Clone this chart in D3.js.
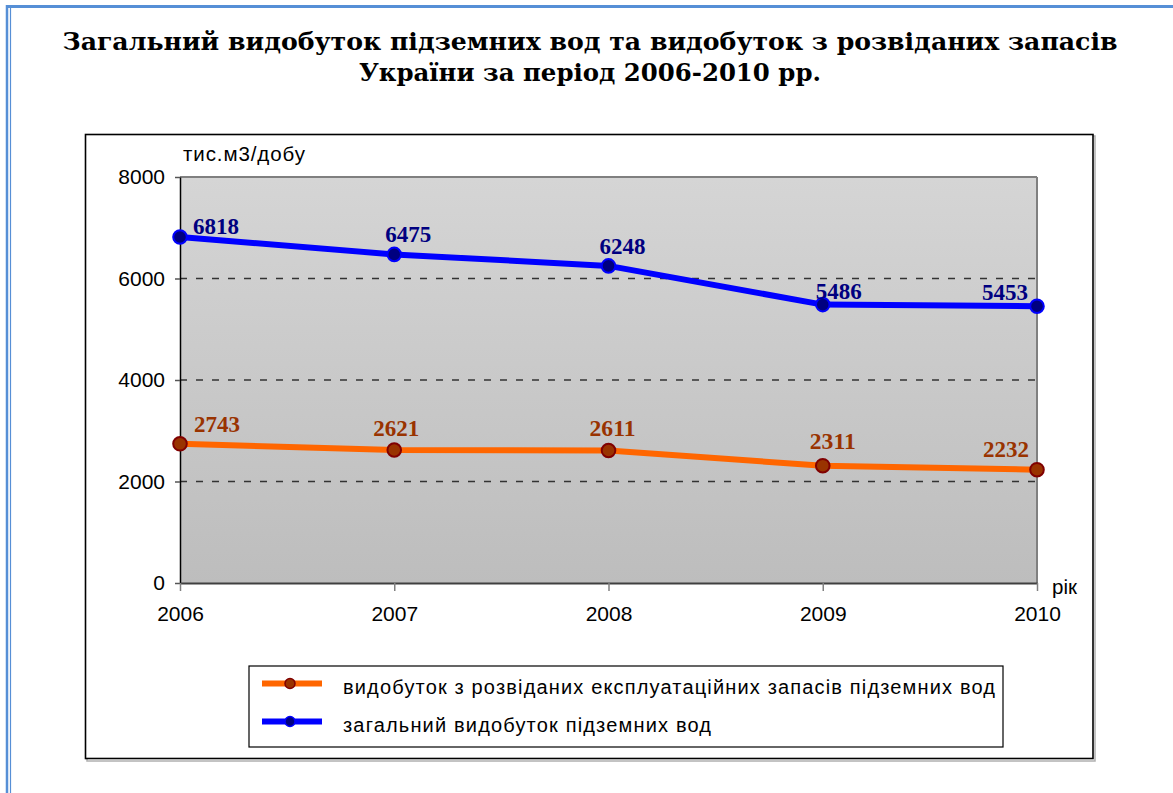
<!DOCTYPE html>
<html>
<head>
<meta charset="utf-8">
<script src="https://cdn.jsdelivr.net/npm/d3@7"></script>
<style>
  body { margin: 0; background: #fff; }
  svg { display: block; }
</style>
</head>
<body>
<div id="chart"></div>
<script>
// data
var years = ["2006", "2007", "2008", "2009", "2010"]
var totalValues = [6818, 6475, 6248, 5486, 5453]
var exploredValues = [2743, 2621, 2611, 2311, 2232]
var yTicks = [0, 2000, 4000, 6000, 8000]
var titleLines = ["Загальний видобуток підземних вод та видобуток з розвіданих запасів",
                  "України за період 2006-2010 рр."]
var legendLabels = ["видобуток з розвіданих експлуатаційних запасів підземних вод",
                    "загальний видобуток підземних вод"]
var yUnit = "тис.м3/добу"
var xUnit = "рік"

// label nudges (layout only)
var totalLabelOffsets = [[36, -3], [14, -12], [14, -12], [16, -6], [-32, -6]]
var exploredLabelOffsets = [[37, -12], [2, -14], [4, -14], [10, -17], [-31, -13]]

var W = 1173, H = 793
var svg = d3.select("#chart").append("svg")
    .attr("width", W)
    .attr("height", H)

// page border
svg.append("line").attr("x1", 6).attr("x2", W).attr("y1", 6.5).attr("y2", 6.5)
    .attr("stroke", "#568fd6").attr("stroke-width", 3)
svg.append("line").attr("x1", 7).attr("x2", 7).attr("y1", 5).attr("y2", H)
    .attr("stroke", "#568fd6").attr("stroke-width", 2.5)
svg.append("line").attr("x1", 10.5).attr("x2", 10.5).attr("y1", 8).attr("y2", H)
    .attr("stroke", "#568fd6").attr("stroke-width", 1.2)

// title
var titleWidths = [1055, 462]
svg.selectAll(".title")
    .data(titleLines)
    .enter()
    .append("text")
    .attr("class", "title")
    .attr("x", 590)
    .attr("y", function(d, i) { return 50 + i * 31 })
    .attr("text-anchor", "middle")
    .attr("textLength", function(d, i) { return titleWidths[i] })
    .attr("lengthAdjust", "spacingAndGlyphs")
    .style("font-family", "'DejaVu Serif', serif")
    .style("font-weight", "bold")
    .style("font-size", "24.5px")
    .text(function(d) { return d })

// chart frame
svg.append("rect")
    .attr("x", 87).attr("y", 136).attr("width", 1008).attr("height", 625)
    .attr("fill", "none").attr("stroke", "#b0b0b0").attr("stroke-width", 1.5)
svg.append("rect")
    .attr("x", 85.5).attr("y", 134.5).attr("width", 1007.5).attr("height", 624)
    .attr("fill", "#fff").attr("stroke", "#000").attr("stroke-width", 1.6)

var plotLeft = 180, plotTop = 177, plotRight = 1037, plotBottom = 583
var xs = d3.scalePoint().domain(years).range([plotLeft, plotRight])
var ys = d3.scaleLinear().domain([0, 8000]).range([plotBottom, plotTop])

// plot background gradient
var defs = svg.append("defs")
var grad = defs.append("linearGradient").attr("id", "plotbg")
    .attr("x1", 0).attr("x2", 0).attr("y1", 0).attr("y2", 1)
grad.append("stop").attr("offset", "0%").attr("stop-color", "#d5d5d5")
grad.append("stop").attr("offset", "100%").attr("stop-color", "#bdbdbd")

svg.append("rect")
    .attr("x", plotLeft).attr("y", plotTop)
    .attr("width", plotRight - plotLeft).attr("height", plotBottom - plotTop)
    .attr("fill", "url(#plotbg)")

// gridlines
svg.append("g")
    .selectAll("line")
    .data(yTicks.filter(function(d) { return d > 0 && d < 8000 }))
    .enter()
    .append("line")
    .attr("x1", plotLeft).attr("x2", plotRight)
    .attr("y1", function(d) { return ys(d) }).attr("y2", function(d) { return ys(d) })
    .attr("stroke", "#333").attr("stroke-width", 1.3)
    .attr("stroke-dasharray", "7,9")

// top and right border of plot
svg.append("line").attr("x1", plotLeft).attr("x2", plotRight).attr("y1", ys(8000)).attr("y2", ys(8000))
    .attr("stroke", "#808080").attr("stroke-width", 2)
svg.append("line").attr("x1", plotRight).attr("x2", plotRight).attr("y1", plotTop).attr("y2", plotBottom)
    .attr("stroke", "#808080").attr("stroke-width", 2)

// axes
var yAxis = svg.append("g")
    .attr("transform", "translate(" + plotLeft + ",0)")
    .call(d3.axisLeft(ys).tickValues(yTicks).tickFormat(d3.format("d"))
        .tickSize(5).tickSizeOuter(0).tickPadding(10))
yAxis.select(".domain").attr("stroke", "#000").attr("stroke-width", 1.5)
yAxis.selectAll(".tick line").attr("stroke", "#555").attr("stroke-width", 1.5)
yAxis.selectAll("text")
    .style("font-family", "'Liberation Sans', Arial, sans-serif")
    .style("font-size", "21px").attr("fill", "#000")

var xAxis = svg.append("g")
    .attr("transform", "translate(0," + plotBottom + ")")
    .call(d3.axisBottom(xs).tickSize(8).tickSizeOuter(0).tickPadding(15))
xAxis.select(".domain").attr("stroke", "#404040").attr("stroke-width", 2)
xAxis.selectAll(".tick line").attr("stroke", "#808080").attr("stroke-width", 1.5)
xAxis.selectAll("text")
    .style("font-family", "'Liberation Sans', Arial, sans-serif")
    .style("font-size", "21px").attr("fill", "#000")

// axis units
svg.append("text")
    .attr("x", 183).attr("y", 161)
    .attr("textLength", 122)
    .attr("lengthAdjust", "spacing")
    .style("font-family", "'Liberation Sans', Arial, sans-serif")
    .style("font-size", "20.5px")
    .text(yUnit)
svg.append("text")
    .attr("x", 1052).attr("y", 594)
    .style("font-family", "'Liberation Sans', Arial, sans-serif")
    .style("font-size", "20.5px")
    .text(xUnit)

// series
var series = [
    { values: exploredValues, line: "#ff6600", fill: "#993300", stroke: "#800000", label: "#993300", offsets: exploredLabelOffsets },
    { values: totalValues, line: "#0000ff", fill: "#000080", stroke: "#0000ff", label: "#000080", offsets: totalLabelOffsets }
]

var lineGen = d3.line()
    .x(function(d, i) { return xs(years[i]) })
    .y(function(d) { return ys(d) })

series.forEach(function(s) {
    svg.append("path")
        .datum(s.values)
        .attr("d", lineGen)
        .attr("fill", "none")
        .attr("stroke", s.line)
        .attr("stroke-width", 6)
        .attr("stroke-linejoin", "round")

    svg.append("g")
        .selectAll("circle")
        .data(s.values)
        .enter()
        .append("circle")
        .attr("cx", function(d, i) { return xs(years[i]) })
        .attr("cy", function(d) { return ys(d) })
        .attr("r", 6.8)
        .attr("fill", s.fill)
        .attr("stroke", s.stroke)
        .attr("stroke-width", 2)

    svg.append("g")
        .selectAll("text")
        .data(s.values)
        .enter()
        .append("text")
        .attr("x", function(d, i) { return xs(years[i]) + s.offsets[i][0] })
        .attr("y", function(d, i) { return ys(d) + s.offsets[i][1] })
        .attr("text-anchor", "middle")
        .attr("textLength", 46)
        .attr("lengthAdjust", "spacingAndGlyphs")
        .attr("fill", s.label)
        .style("font-family", "'Liberation Serif', 'Times New Roman', serif")
        .style("font-weight", "bold")
        .style("font-size", "23px")
        .text(function(d) { return d })
})

// legend
svg.append("rect")
    .attr("x", 249).attr("y", 666).attr("width", 754).attr("height", 81)
    .attr("fill", "#fff").attr("stroke", "#000").attr("stroke-width", 1.2)

var legendWidths = [652, 368]
var lg = svg.append("g")
    .selectAll("g")
    .data(legendLabels)
    .enter()
    .append("g")
    .attr("transform", function(d, i) { return "translate(0," + (683.5 + i * 38) + ")" })
lg.append("line")
    .attr("x1", 262).attr("x2", 322)
    .attr("stroke", function(d, i) { return series[i].line })
    .attr("stroke-width", 6)
lg.append("circle")
    .attr("cx", 290).attr("r", 5)
    .attr("fill", function(d, i) { return series[i].fill })
    .attr("stroke", function(d, i) { return series[i].stroke })
    .attr("stroke-width", 1.5)
lg.append("text")
    .attr("x", 343).attr("y", 10)
    .attr("textLength", function(d, i) { return legendWidths[i] })
    .attr("lengthAdjust", "spacing")
    .style("font-family", "'Liberation Sans', Arial, sans-serif")
    .style("font-size", "20px")
    .text(function(d) { return d })
</script>
</body>
</html>
